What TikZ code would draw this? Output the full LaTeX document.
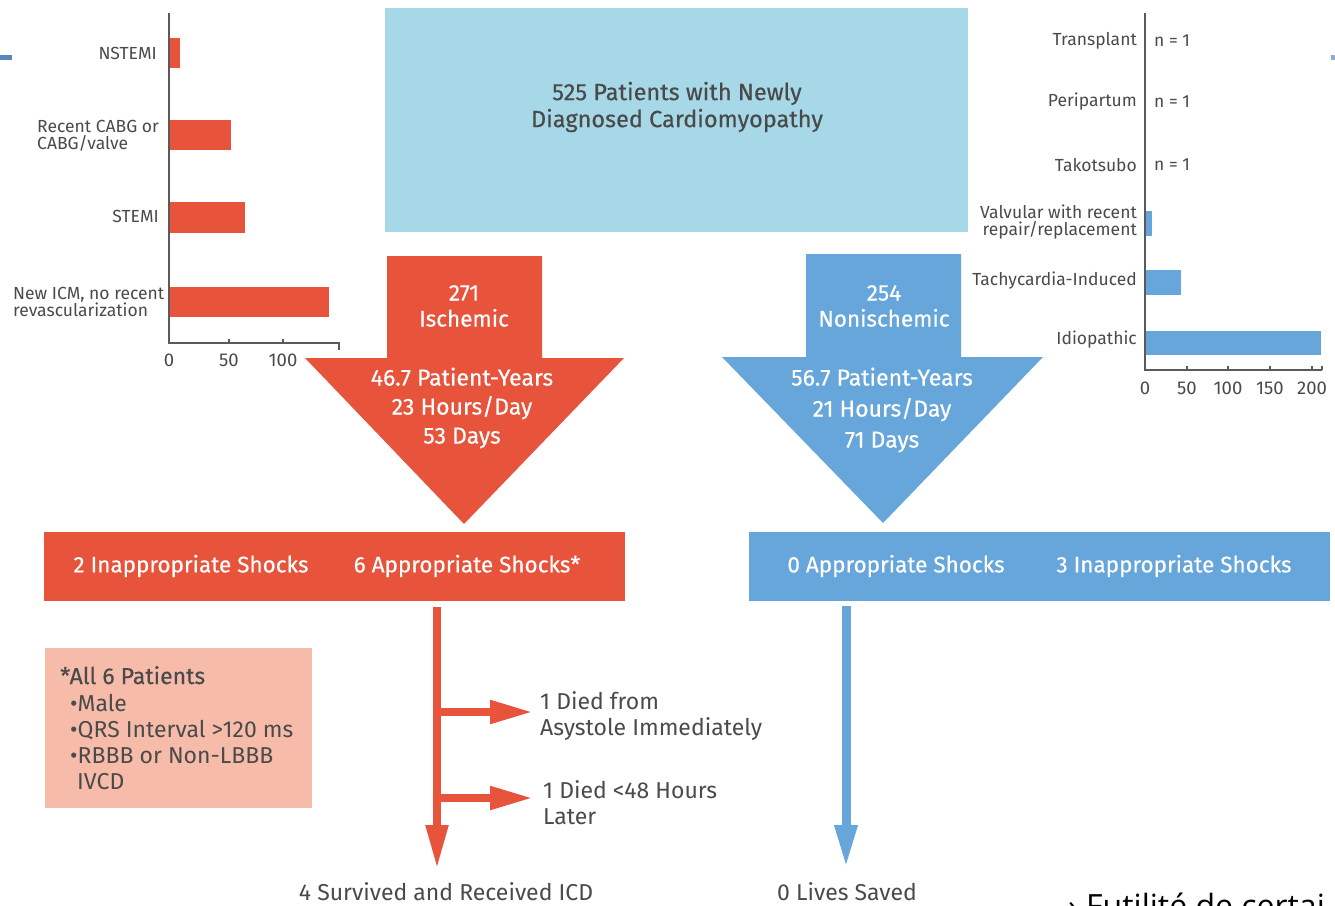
\documentclass[tikz,border=0pt]{standalone}
\usepackage{fontspec}
\setmainfont{Fira Sans}
\newfontfamily\medf[FakeBold=0.4]{Fira Sans}
\newfontfamily\capf{Open Sans}
\usetikzlibrary{arrows.meta}
\definecolor{red1}{HTML}{E8533B}
\definecolor{blue1}{HTML}{66A6DB}
\definecolor{lblue}{HTML}{A6D8E7}
\definecolor{pink1}{HTML}{F7BBA9}
\definecolor{txt}{HTML}{4A4A4A}
\definecolor{axisc}{HTML}{5A5A5A}
\definecolor{markc}{HTML}{5B87C0}
\tikzset{
  lab/.style={text=txt, font=\fontsize{17.5}{17}\selectfont, inner sep=0pt, align=left},
  labr/.style={text=txt, font=\fontsize{17.5}{17}\selectfont, inner sep=0pt, align=right},
  ticklab/.style={text=txt, font=\fontsize{18.5}{18}\selectfont, inner sep=0pt},
  wtxt/.style={text=white, font=\medf\fontsize{22.5}{26}\selectfont, inner sep=0pt, align=center},
  btxt/.style={text=txt, font=\fontsize{23}{26}\selectfont, inner sep=0pt, align=left},
  axisline/.style={axisc, line width=1.2pt},
  redbar/.style={fill=red1},
  bluebar/.style={fill=blue1},
  redarrow/.style={red1, line width=8pt, -{Triangle[length=44pt,width=21pt]}},
  bluearrow/.style={blue1, line width=9pt, -{Triangle[length=43pt,width=21pt]}},
}
\begin{document}
\begin{tikzpicture}[x=1pt,y=-1pt]
\useasboundingbox (0,0) rectangle (1335,905);
% corner marks
\fill[markc] (0,55) rectangle (12,60);
\fill[markc!70] (1331,55) rectangle (1335,60);

% ---------- left bar chart ----------
\fill[redbar] (169,38) rectangle (180,68);
\fill[redbar] (169,120) rectangle (231,150);
\fill[redbar] (169,202) rectangle (245,233);
\fill[redbar] (169,287) rectangle (329,317);
\draw[axisline] (169,13) -- (169,343) -- (339,343) -- (339,350);
\draw[axisline] (229,343) -- (229,339) (283,343) -- (283,339);
\node[labr, anchor=east] (l1) at (157,53) {NSTEMI};
\node[lab, anchor=west] (l2) at (37,136) {Recent CABG or\\CABG/valve};
\node[labr, anchor=east] (l3) at (159,216) {STEMI};
\node[lab, anchor=west] (l4) at (13,302) {New ICM, no recent\\revascularization};
\node[ticklab] (t0) at (169,360) {0};
\node[ticklab] (t50) at (229,360) {50};
\node[ticklab] (t100) at (283,360) {100};

% ---------- right bar chart ----------
\fill[bluebar] (1145,211) rectangle (1152,236);
\fill[bluebar] (1145,270) rectangle (1181,295);
\fill[bluebar] (1145,331) rectangle (1321,355);
\draw[axisline] (1145,13) -- (1145,370) -- (1322,370);
\foreach \xx in {1187,1228,1270,1312,1322} \draw[axisline] (\xx,370) -- (\xx,366);
\node[labr, anchor=east] (r1) at (1137,41) {Transplant};
\node[labr, anchor=east] (r2) at (1137,102) {Peripartum};
\node[labr, anchor=east] (r3) at (1137,165) {Takotsubo};
\node[labr, anchor=east] (r4) at (1137,222) {Valvular with recent\\repair/replacement};
\node[labr, anchor=east] (r5) at (1137,281) {Tachycardia-Induced};
\node[labr, anchor=east] (r6) at (1137,340) {Idiopathic};
\node[lab, anchor=west] (n1) at (1154,41) {n = 1};
\node[lab, anchor=west] (n2) at (1154,102) {n = 1};
\node[lab, anchor=west] (n3) at (1154,165) {n = 1};
\node[ticklab] (u0) at (1145,388) {0};
\node[ticklab] (u50) at (1187,388) {50};
\node[ticklab] (u100) at (1228,388) {100};
\node[ticklab] (u150) at (1270,388) {150};
\node[ticklab] (u200) at (1312,388) {200};

% ---------- top box ----------
\node[fill=lblue, minimum width=583pt, minimum height=224pt, inner sep=0pt, anchor=north west] (top) at (385,8) {};
\node[text=txt, font=\medf\fontsize{23.5}{27}\selectfont, align=center, inner sep=0pt] (toptext) at (677,107) {525 Patients with Newly\\Diagnosed Cardiomyopathy};

% ---------- big arrows ----------
\fill[red1] (387,256) -- (542,256) -- (542,358) -- (624,358) -- (464,524) -- (305,358) -- (387,358) -- cycle;
\node[wtxt] (isc) at (464,306) {271\\Ischemic};
\node[wtxt, font=\medf\fontsize{23}{29}\selectfont] (iscd) at (462,408) {46.7 Patient-Years\\23 Hours/Day\\53 Days};
\fill[blue1] (806,254) -- (961,254) -- (961,357) -- (1043,357) -- (883,523) -- (722,357) -- (806,357) -- cycle;
\node[wtxt] (nisc) at (884,306) {254\\Nonischemic};
\node[wtxt, font=\medf\fontsize{23}{31}\selectfont] (niscd) at (882,410) {56.7 Patient-Years\\21 Hours/Day\\71 Days};

% ---------- shock bars ----------
\node[fill=red1, minimum width=581pt, minimum height=69pt, inner sep=0pt, anchor=north west] (rbar) at (44,532) {};
\node[wtxt] (s1) at (191,566) {2 Inappropriate Shocks};
\node[wtxt] (s2) at (467,566) {6 Appropriate Shocks*};
\node[fill=blue1, minimum width=581pt, minimum height=69pt, inner sep=0pt, anchor=north west] (bbar) at (749,532) {};
\node[wtxt] (s3) at (896,566) {0 Appropriate Shocks};
\node[wtxt] (s4) at (1174,566) {3 Inappropriate Shocks};

% ---------- outcome arrows ----------
\coordinate (ra) at (437,607);
\coordinate (rb) at (437,869);
\coordinate (b1s) at (437,712);
\coordinate (b1e) at (533,712);
\coordinate (b2s) at (437,798);
\coordinate (b2e) at (533,798);
\draw[redarrow] (ra) -- (rb);
\draw[redarrow, -{Triangle[length=43pt,width=22pt]}] (b1s) -- (b1e);
\draw[redarrow, -{Triangle[length=43pt,width=22pt]}] (b2s) -- (b2e);
\node[btxt, anchor=west] (d1) at (540,716) {1 Died from\\Asystole Immediately};
\node[btxt, anchor=west] (d2) at (543,803) {1 Died <48 Hours\\Later};
\node[btxt, align=center] (surv) at (446,892) {4 Survived and Received ICD};

\coordinate (ba) at (846,606);
\coordinate (bb) at (846,868);
\draw[bluearrow] (ba) -- (bb);
\node[btxt, align=center] (lives) at (847,892) {0 Lives Saved};

% ---------- footnote box ----------
\node[fill=pink1, minimum width=267pt, minimum height=160pt, inner sep=0pt, anchor=north west] (pk) at (45,648) {};
\node[btxt, font=\medf\fontsize{23}{26}\selectfont, anchor=base west] (p0) at (60,684) {*All 6 Patients};
\node[btxt, anchor=base west] (p1) at (70,711) {•Male};
\node[btxt, anchor=base west] (p2) at (70,737) {•QRS Interval >120 ms};
\node[btxt, anchor=base west] (p3) at (70,763) {•RBBB or Non-LBBB};
\node[btxt, anchor=base west] (p4) at (77,789) {IVCD};

% ---------- clipped caption ----------
\begin{scope}
\clip (0,0) rectangle (1335,905);
\node[anchor=base west, inner sep=0pt, text=black, font=\capf\fontsize{32}{32}\selectfont] (fut) at (1068,917) {› Futilité de certai};
\end{scope}
\end{tikzpicture}
\end{document}
